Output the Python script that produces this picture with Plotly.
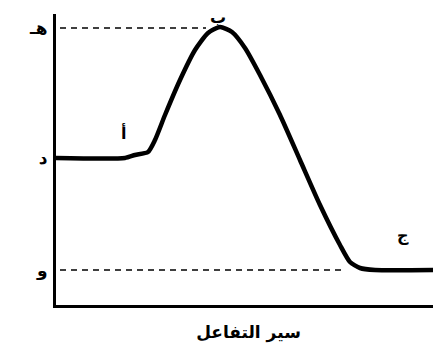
import plotly.graph_objects as go

# reaction path (progress, energy)
progress = [0, 69, 79, 92, 99, 109, 124, 139, 152, 164, 176, 189, 204, 224, 244, 264, 284, 294, 304, 319, 379]
energy = [147, 147, 150, 153, 165, 190, 225, 255, 272, 278, 273, 257, 230, 190, 145, 100, 60, 43, 37, 35, 35]

level_names = ["هـ", "د", "و"]
level_values = [277, 147, 35]

point_labels = ["أ", "ب", "ج"]
point_x = [67, 162, 347]
point_y = [172, 299, 58]

x_title = "سير التفاعل"

font = "DejaVu Sans"

fig = go.Figure()
# dashed guides
fig.add_trace(go.Scatter(x=[4, 150], y=[level_values[0]] * 2, mode="lines",
                         line=dict(color="black", width=1.5, dash="6px,5px"), hoverinfo="skip"))
fig.add_trace(go.Scatter(x=[4, 285], y=[level_values[2]] * 2, mode="lines",
                         line=dict(color="black", width=1.5, dash="6px,5px"), hoverinfo="skip"))
fig.add_trace(go.Scatter(x=progress, y=energy, mode="lines",
                         line=dict(color="black", width=4.5, shape="spline", smoothing=0.6),
                         hoverinfo="skip"))

for t, x, y in zip(point_labels, point_x, point_y):
    fig.add_annotation(x=x, y=y / 291, yref="paper", text="<b>" + t + "</b>", showarrow=False,
                       font=dict(family=font, size=16, color="black"))

fig.update_layout(
    width=441, height=356,
    margin=dict(l=48, r=8, t=6, b=59),
    showlegend=False,
    plot_bgcolor="white", paper_bgcolor="white",
    xaxis=dict(range=[0, 385], showgrid=False, zeroline=False, showticklabels=False,
               ticks="", showline=True, linecolor="black", linewidth=3, automargin=False,
               title=dict(text="<b>" + x_title + "</b>",
                          font=dict(family=font, size=17, color="black"),
                          standoff=20)),
    yaxis=dict(range=[0, 291], showgrid=False, zeroline=False, automargin=False,
               tickvals=level_values, ticktext=["<b>" + n + "</b>" for n in level_names],
               ticks="", ticklabelstandoff=2,
               tickfont=dict(family=font, size=17, color="black"),
               showline=True, linecolor="black", linewidth=3),
)

fig.write_html("out.html")
